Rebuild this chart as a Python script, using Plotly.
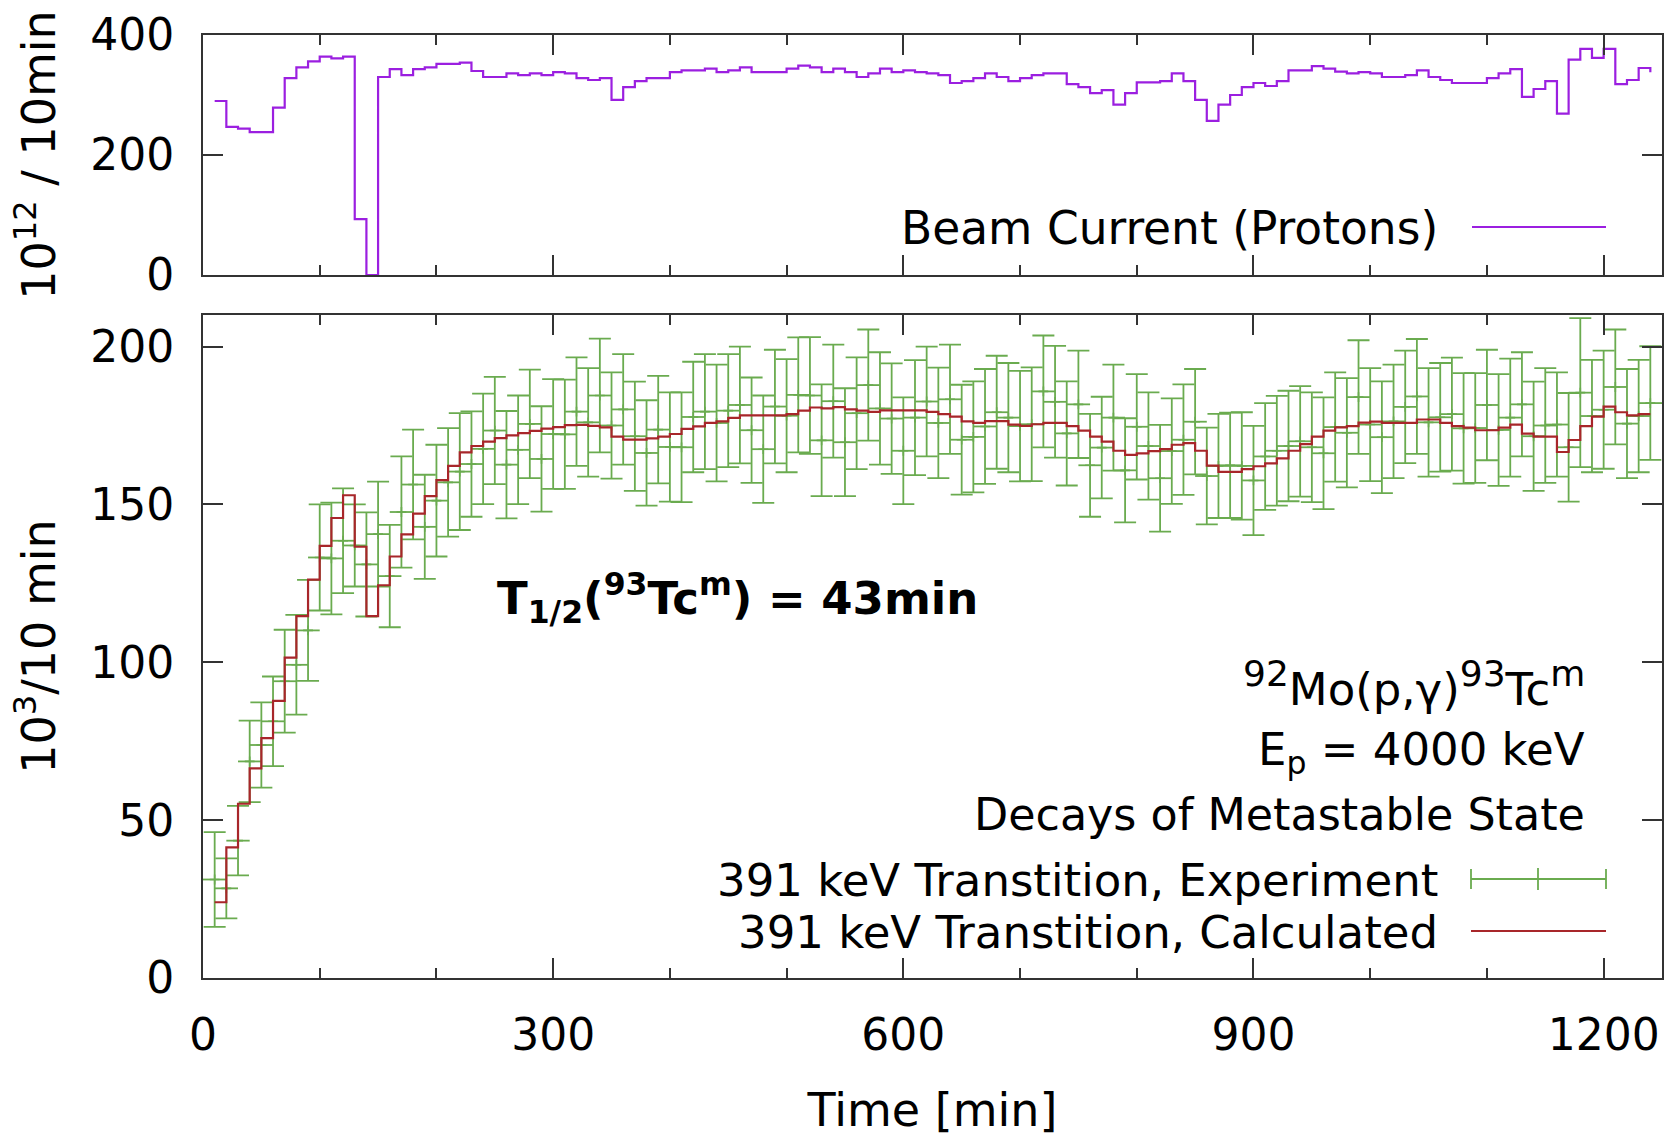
import plotly.graph_objects as go

# ---- data -------------------------------------------------------------
# time bins [min]
time_min = list(range(10, 1250, 10))

# beam current, 10^12 protons per 10 min
beam_current = [
    290, 247, 244, 238, 238, 279, 328, 346, 356, 364,
    361, 364, 93, 0, 330, 343, 333, 343, 346, 352,
    352, 354, 340, 330, 330, 336, 333, 336, 333, 338,
    336, 328, 325, 328, 292, 313, 323, 328, 328, 338,
    341, 341, 344, 338, 341, 346, 338, 338, 338, 344,
    349, 346, 338, 344, 338, 330, 336, 344, 338, 341,
    338, 336, 333, 320, 323, 328, 336, 330, 323, 328,
    333, 336, 336, 318, 313, 303, 308, 284, 303, 321,
    321, 323, 336, 323, 292, 257, 284, 300, 313, 320,
    315, 323, 341, 341, 348, 344, 339, 336, 338, 336,
    330, 330, 333, 341, 330, 325, 320, 320, 320, 328,
    336, 343, 297, 310, 323, 269, 359, 377, 362, 377,
    318, 325, 345, 338,
]

# 391 keV transition, measured decays (10^3 per 10 min) and uncertainty
exp_counts = [
    31.2, 28.4, 43.5, 68.6, 73.8, 81.3, 94.0, 99.2, 110.1, 133.2,
    132.9, 138.5, 137.0, 131.0, 140.6, 127.3, 147.6, 156.3, 142.9, 151.2,
    157.0, 160.4, 162.8, 167.6, 173.4, 162.6, 167.3, 175.5, 164.4, 172.3,
    172.2, 179.4, 176.0, 184.5, 175.0, 180.1, 171.6, 166.3, 173.7, 168.2,
    168.1, 177.7, 179.4, 175.8, 179.7, 181.5, 173.5, 167.5, 181.0, 178.1,
    184.7, 184.5, 170.3, 182.7, 169.7, 178.9, 187.8, 180.4, 177.2, 167.0,
    177.5, 182.6, 175.8, 183.3, 170.5, 171.4, 174.7, 179.2, 177.5, 174.8,
    175.4, 185.8, 182.5, 172.5, 181.7, 162.4, 168.0, 177.5, 160.8, 174.6,
    168.5, 158.3, 166.9, 170.5, 176.2, 159.0, 162.2, 162.4, 162.2, 157.6,
    165.2, 167.0, 168.5, 170.0, 168.1, 166.2, 174.5, 172.7, 184.0, 175.3,
    171.3, 176.3, 180.9, 184.2, 176.0, 177.6, 178.6, 174.1, 174.2, 181.5,
    173.6, 177.5, 181.7, 171.6, 175.0, 175.3, 168.1, 185.4, 178.0, 180.0,
    187.2, 175.6, 178.0, 182.1,
]
exp_error = [
    15.0, 9.5, 11.0, 12.9, 13.5, 14.2, 16.3, 15.8, 16.0, 16.8,
    17.7, 16.6, 13.0, 16.5, 16.6, 16.2, 17.6, 17.4, 16.5, 17.7,
    17.2, 18.5, 16.7, 17.5, 17.0, 17.0, 17.2, 17.2, 16.7, 17.4,
    17.3, 17.2, 17.2, 18.0, 16.8, 17.5, 17.3, 16.7, 17.0, 17.3,
    17.4, 17.5, 18.2, 18.5, 17.9, 18.5, 16.7, 17.0, 18.0, 17.9,
    18.2, 18.5, 17.7, 17.9, 17.1, 17.7, 17.6, 17.8, 17.5, 16.9,
    18.2, 17.4, 17.5, 17.3, 17.4, 17.6, 18.2, 17.9, 17.3, 17.5,
    18.0, 17.7, 17.7, 16.5, 17.0, 16.3, 16.1, 16.8, 16.5, 16.7,
    17.0, 16.9, 16.7, 17.5, 16.7, 15.3, 16.5, 16.7, 17.0, 17.3,
    16.9, 17.4, 17.5, 17.5, 17.4, 17.7, 17.3, 17.3, 18.0, 17.9,
    17.7, 18.0, 17.8, 18.2, 17.2, 17.2, 17.9, 17.5, 17.4, 17.5,
    17.7, 18.7, 16.5, 17.3, 18.2, 16.5, 17.2, 23.6, 17.8, 18.7,
    18.2, 17.3, 17.8, 18.0,
]
bin_half_width = 10  # horizontal error bar, min

# 391 keV transition, calculated decays (10^3 per 10 min)
calc_counts = [
    24.0, 41.4, 55.2, 66.4, 76.0, 87.8, 101.5, 114.6, 126.2, 136.9,
    145.7, 152.9, 136.6, 114.6, 124.4, 133.5, 140.5, 147.1, 152.6, 157.7,
    162.2, 166.5, 168.5, 169.9, 171.0, 171.9, 172.6, 173.3, 174.0, 174.5,
    175.1, 175.2, 174.9, 174.4, 171.5, 170.5, 170.5, 170.9, 171.5, 172.3,
    173.9, 174.7, 175.8, 176.3, 177.4, 178.2, 178.2, 178.2, 178.2, 178.6,
    179.7, 180.7, 180.4, 180.8, 180.1, 179.7, 179.3, 179.8, 179.8, 179.8,
    179.8, 179.3, 178.6, 177.8, 176.3, 175.8, 176.4, 176.4, 175.3, 174.9,
    175.4, 175.8, 175.8, 174.8, 173.4, 171.5, 169.9, 167.0, 165.7, 166.2,
    166.9, 167.5, 168.9, 169.4, 167.0, 162.3, 160.3, 160.3, 161.2, 162.1,
    163.0, 164.6, 167.0, 169.1, 171.5, 173.4, 174.4, 174.8, 175.9, 176.2,
    175.8, 175.8, 175.8, 176.9, 176.9, 175.8, 174.8, 174.3, 173.5, 173.5,
    174.3, 175.3, 172.4, 171.5, 171.5, 166.6, 170.4, 174.8, 177.8, 181.0,
    179.2, 178.2, 178.6, 178.6,
]

x_ticks = [0, 300, 600, 900, 1200]
beam_ticks = [0, 200, 400]
count_ticks = [0, 50, 100, 150, 200]

# ---- styling ----------------------------------------------------------
FONT = "DejaVu Sans"
FS_TICK = 44
FS_TITLE = 46
FS_TEXT = 45
AXIS_COLOR = "#333333"
BEAM_COLOR = "#9b1fe0"
EXP_COLOR = "#6aab4f"
CALC_COLOR = "#a8262a"

W, H = 1679, 1137
L, R, T, B = 203, 17, 35, 159
PW, PH = W - L - R, H - T - B


def px_x(x):
    return (x - L) / PW


def px_y(y):
    return (H - B - y) / PH


top_domain = [px_y(275), 1.0]
bottom_domain = [0.0, px_y(315)]

fig = go.Figure()

fig.add_trace(go.Scatter(
    x=time_min, y=beam_current, mode="lines", line_shape="hv",
    line=dict(color=BEAM_COLOR, width=2.2),
    xaxis="x", yaxis="y", showlegend=False,
))

fig.add_trace(go.Scatter(
    x=time_min, y=exp_counts, mode="markers",
    marker=dict(symbol="cross-thin", size=7, color=EXP_COLOR,
                line=dict(color=EXP_COLOR, width=1.6)),
    error_y=dict(type="data", array=exp_error, visible=True,
                 color=EXP_COLOR, thickness=1.8, width=11),
    error_x=dict(type="constant", value=bin_half_width, visible=True,
                 color=EXP_COLOR, thickness=1.8, width=0),
    xaxis="x2", yaxis="y2", showlegend=False,
))

fig.add_trace(go.Scatter(
    x=time_min, y=calc_counts, mode="lines", line_shape="hv",
    line=dict(color=CALC_COLOR, width=2.2),
    xaxis="x2", yaxis="y2", showlegend=False,
))

axis_common = dict(
    showline=True, linecolor=AXIS_COLOR, linewidth=2, mirror="allticks",
    ticks="inside", ticklen=20, tickwidth=1.5, tickcolor=AXIS_COLOR,
    showgrid=False, zeroline=False, automargin=False,
    tickfont=dict(family=FONT, size=FS_TICK, color="black"),
)
x_common = dict(
    axis_common, range=[0, 1250], tickmode="array", tickvals=x_ticks,
    minor=dict(ticks="inside", dtick=100, tick0=0, ticklen=10,
               tickwidth=1.5, tickcolor=AXIS_COLOR, showgrid=False),
)

fig.update_layout(
    width=W, height=H,
    margin=dict(l=L, r=R, t=T, b=B, autoexpand=False),
    paper_bgcolor="white", plot_bgcolor="white",
    font=dict(family=FONT, size=FS_TICK, color="black"),
    xaxis=dict(x_common, anchor="y", showticklabels=False),
    yaxis=dict(axis_common, domain=top_domain, range=[0, 400],
               tickmode="array", tickvals=beam_ticks,
               ticklabelstandoff=18,
               title=dict(text="10<sup>12</sup> / 10min", standoff=20,
                          font=dict(family=FONT, size=FS_TITLE))),
    xaxis2=dict(x_common, anchor="y2", ticklabelstandoff=17,
                title=dict(text="Time [min]", standoff=54,
                           font=dict(family=FONT, size=FS_TITLE))),
    yaxis2=dict(axis_common, domain=bottom_domain, range=[0, 210],
                tickmode="array", tickvals=count_ticks,
                ticklabelstandoff=18,
                title=dict(text="10<sup>3</sup>/10 min", standoff=20,
                           font=dict(family=FONT, size=FS_TITLE))),
)

# ---- text labels --------------------------------------------------------
SUP = '<sup><span style="font-size:36px">{}</span></sup>'


def label(text, x, y, xanchor="right", bold=False, size=FS_TEXT):
    fig.add_annotation(
        x=px_x(x), y=px_y(y), xref="paper", yref="paper",
        text=f"<b>{text}</b>" if bold else text, showarrow=False,
        xanchor=xanchor, yanchor="middle",
        font=dict(family=FONT, size=size, color="black"),
    )


label("T<sub>1/2</sub>(<sup>93</sup>Tc<sup>m</sup>) = 43min", 495, 598,
      xanchor="left", bold=True, size=45)
label(SUP.format("92") + "Mo(p,γ)" + SUP.format("93") + "Tc" + SUP.format("m"),
      1587, 684, size=45)
label("E<sub>p</sub> = 4000 keV", 1587, 752, size=45)
label("Decays of Metastable State", 1587, 814, size=44.4)
label("391 keV Transtition, Experiment", 1440, 880)
label("391 keV Transtition, Calculated", 1440, 932)
label("Beam Current (Protons)", 1440, 229, size=45.5)


# key samples
def seg(x0, y0, x1, y1, color):
    fig.add_shape(type="line", xref="paper", yref="paper",
                  x0=px_x(x0), y0=px_y(y0), x1=px_x(x1), y1=px_y(y1),
                  line=dict(color=color, width=1.8))


seg(1472, 227, 1606, 227, BEAM_COLOR)
seg(1471, 879, 1606, 879, EXP_COLOR)
seg(1471, 869, 1471, 889, EXP_COLOR)
seg(1606, 869, 1606, 889, EXP_COLOR)
seg(1538, 868, 1538, 890, EXP_COLOR)
seg(1471, 931, 1606, 931, CALC_COLOR)

fig.write_html("out.html")
